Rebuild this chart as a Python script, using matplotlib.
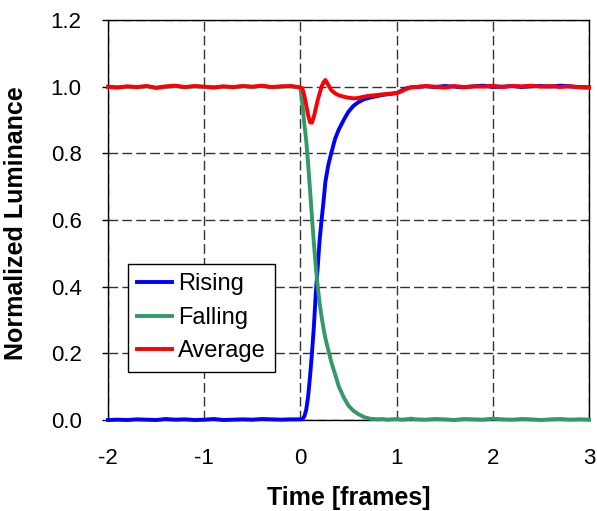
import matplotlib
matplotlib.use("Agg")
import matplotlib.pyplot as plt

# time axis in frames (shared by all three traces)
time_frames = [
    -2.0, -1.9, -1.8, -1.7, -1.6, -1.5, -1.4, -1.3, -1.2, -1.1,
    -1.0, -0.9, -0.8, -0.7, -0.6, -0.5, -0.4, -0.3, -0.2, -0.1,
    0.0, 0.02, 0.04, 0.06, 0.08, 0.10, 0.12, 0.14, 0.16, 0.18, 0.20, 0.22, 0.24, 0.26,
    0.29, 0.32, 0.36, 0.40, 0.45, 0.50, 0.55, 0.60, 0.66, 0.72,
    0.80, 0.85, 0.90, 0.95, 1.00, 1.05, 1.10, 1.15, 1.20,
    1.3, 1.4, 1.5, 1.6, 1.7, 1.8, 1.9, 2.0, 2.1, 2.2,
    2.3, 2.4, 2.5, 2.6, 2.7, 2.8, 2.9, 3.0,
]

rising = [
    0.000, 0.001, 0.000, 0.002, 0.001, 0.000, 0.003, 0.001, 0.002, 0.000,
    0.001, 0.003, 0.000, 0.001, 0.002, 0.001, 0.003, 0.002, 0.001, 0.002,
    0.002, 0.003, 0.010, 0.030, 0.070, 0.130, 0.20, 0.28, 0.38, 0.46, 0.54, 0.60, 0.655, 0.715,
    0.765, 0.80, 0.843, 0.872, 0.90, 0.925, 0.942, 0.953, 0.962, 0.967,
    0.972, 0.975, 0.977, 0.979, 0.981, 0.988, 0.995, 0.998, 0.999,
    1.001, 0.999, 1.002, 1.000, 0.998, 1.001, 1.003, 0.999, 1.000, 1.002,
    0.999, 1.001, 1.002, 1.000, 1.003, 1.001, 0.999, 0.998,
]

falling = [
    0.998, 0.997, 1.000, 0.998, 1.001, 0.996, 0.999, 1.002, 0.998, 1.001,
    0.999, 0.997, 1.000, 0.998, 1.001, 0.999, 1.002, 0.998, 1.000, 1.001,
    0.997, 0.95, 0.89, 0.84, 0.77, 0.69, 0.61, 0.53, 0.46, 0.40, 0.35, 0.31, 0.275, 0.245,
    0.21, 0.175, 0.138, 0.10, 0.068, 0.043, 0.028, 0.018, 0.009, 0.004,
    0.002, 0.003, 0.001, 0.002, 0.003, 0.001, 0.002, 0.004, 0.002,
    0.001, 0.003, 0.002, 0.000, 0.003, 0.002, 0.001, 0.004, 0.002, 0.001,
    0.003, 0.002, 0.000, 0.002, 0.003, 0.001, 0.002, 0.001,
]

average = [
    1.000, 0.998, 1.001, 0.999, 1.002, 0.997, 1.001, 1.003, 0.999, 1.002,
    1.000, 0.998, 1.001, 0.999, 1.002, 1.000, 1.003, 0.999, 1.001, 1.002,
    0.998, 0.995, 0.975, 0.945, 0.915, 0.893, 0.892, 0.91, 0.935, 0.96, 0.98, 1.000, 1.013, 1.020,
    1.005, 0.99, 0.98, 0.974, 0.970, 0.967, 0.965, 0.966, 0.970, 0.973,
    0.975, 0.977, 0.978, 0.979, 0.981, 0.986, 0.993, 0.998, 0.999,
    1.002, 1.000, 0.997, 1.002, 0.999, 1.001, 1.000, 1.003, 0.999, 1.002,
    1.001, 1.003, 1.000, 1.002, 0.999, 1.001, 0.998, 0.997,
]

x_ticks = [-2, -1, 0, 1, 2, 3]
y_ticks = [0.0, 0.2, 0.4, 0.6, 0.8, 1.0, 1.2]

plt.rcParams["font.family"] = ["Liberation Sans", "DejaVu Sans"]

fig = plt.figure(figsize=(5.97, 5.11), dpi=100)
ax = fig.add_axes([108 / 597, 1 - 420 / 511, 481 / 597, 400 / 511])

lw = 2.8
ax.plot(time_frames, rising, color="#0000FF", lw=lw, label="Rising", clip_on=False, zorder=3)
ax.plot(time_frames, falling, color="#339966", lw=lw, label="Falling", clip_on=False, zorder=4)
ax.plot(time_frames, average, color="#FF0000", lw=lw, label="Average", clip_on=False, zorder=5)

ax.set_xlim(-2, 3)
ax.set_ylim(0, 1.2)
ax.set_xticks(x_ticks)
ax.set_yticks(y_ticks)
ax.set_xticklabels([str(v) for v in x_ticks])
ax.set_yticklabels([f"{v:.1f}" for v in y_ticks])

ax.grid(True, color="#333333", lw=1.0, linestyle=(0, (7, 3)))
ax.set_axisbelow(True)

for sp in ax.spines.values():
    sp.set_color("black")
    sp.set_linewidth(1.0)

ax.tick_params(axis="y", direction="out", length=4, width=1, pad=15, labelsize=16)
ax.tick_params(axis="x", direction="in", length=0, pad=20, labelsize=16)

ax.set_xlabel("Time [frames]", fontsize=18, fontweight="bold")
ax.set_ylabel("Normalized Luminance", fontsize=18, fontweight="bold")
ax.xaxis.set_label_coords(0.5, -0.165)
ax.yaxis.set_label_coords(-0.166, 0.491)

leg = ax.legend(loc="upper left", bbox_to_anchor=(0.0416, 0.39), borderaxespad=0,
                fancybox=False, edgecolor="black", framealpha=1, fontsize=17,
                handlelength=1.45, handletextpad=0.28, labelspacing=0.48, borderpad=0.4)
leg.get_frame().set_linewidth(1.0)

fig.savefig("out.png", dpi=100)
